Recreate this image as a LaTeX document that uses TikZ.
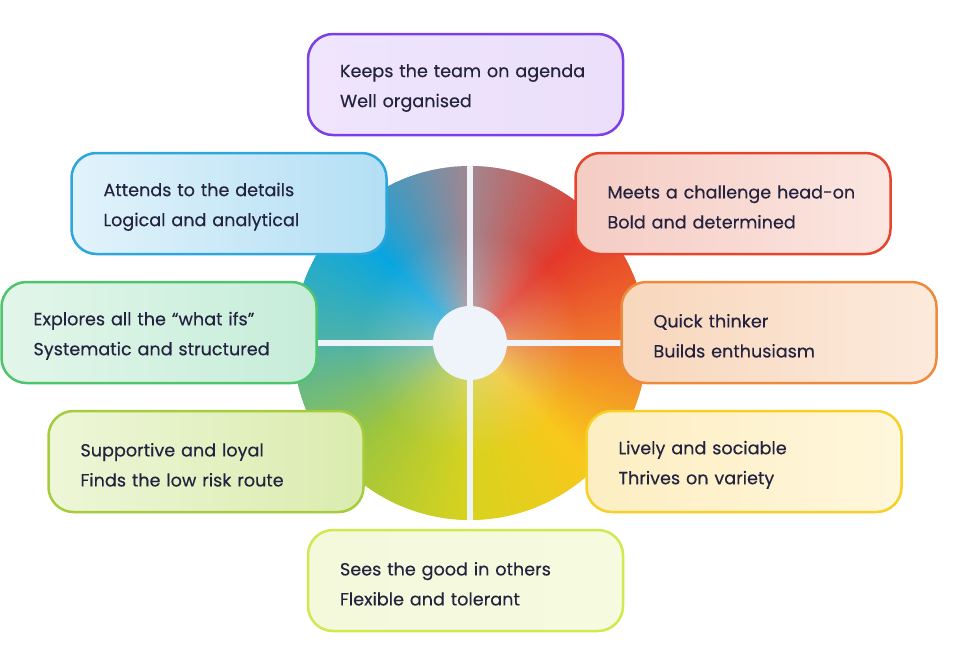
\documentclass[tikz,border=0pt]{standalone}
\usepackage{fontspec}
\setmainfont{Poppins}[FakeBold=0.3]
\usetikzlibrary{fadings}

\definecolor{ink}{HTML}{23233F}
\definecolor{hub}{HTML}{EEF4F9}
% wheel colour stops, every 45 degrees (clockwise from the right)
\definecolor{s0}{HTML}{F07A2C}
\definecolor{s1}{HTML}{F8C81C}
\definecolor{s2}{HTML}{D8D31E}
\definecolor{s3}{HTML}{A0C63C}
\definecolor{s4}{HTML}{4FB2A8}
\definecolor{s5}{HTML}{08A6E0}
\definecolor{s6}{HTML}{A3868F}
\definecolor{s7}{HTML}{E4382A}
\definecolor{s8}{HTML}{F07A2C}
% box colours: border, left fill, right fill
\definecolor{agendaB}{HTML}{7B3FE4}\definecolor{agendaL}{HTML}{EFE5FC}\definecolor{agendaR}{HTML}{EBDFFB}
\definecolor{detailsB}{HTML}{2CA6DD}\definecolor{detailsL}{HTML}{E2F3FB}\definecolor{detailsR}{HTML}{B3DFF4}
\definecolor{challengeB}{HTML}{E6452D}\definecolor{challengeL}{HTML}{F4CCC4}\definecolor{challengeR}{HTML}{FCE6E0}
\definecolor{whatifsB}{HTML}{4EC46C}\definecolor{whatifsL}{HTML}{E2F6E9}\definecolor{whatifsR}{HTML}{C6EDD9}
\definecolor{thinkerB}{HTML}{EE8A3C}\definecolor{thinkerL}{HTML}{F8D7BC}\definecolor{thinkerR}{HTML}{FCEADC}
\definecolor{loyalB}{HTML}{A6CB3C}\definecolor{loyalL}{HTML}{EEF6D8}\definecolor{loyalR}{HTML}{DAECAE}
\definecolor{livelyB}{HTML}{F6D024}\definecolor{livelyL}{HTML}{FDEEC2}\definecolor{livelyR}{HTML}{FFF7DC}
\definecolor{othersB}{HTML}{D2E84E}\definecolor{othersL}{HTML}{F4F9DC}\definecolor{othersR}{HTML}{F6FADF}
\tikzfading[name=hubfade, inner color=transparent!0, outer color=transparent!100]

\begin{document}
\begin{tikzpicture}[x=1pt, y=-1pt,
    trait/.style={draw=#1B, line width=2.5pt, rounded corners=25pt,
      left color=#1L, right color=#1R, minimum width=315pt, minimum height=101pt,
      text width=251pt, inner xsep=32pt, align=left, text=ink,
      font=\fontsize{17.6}{30}\selectfont, execute at begin node=\rule{0pt}{20pt}}]
    \useasboundingbox (0,0) rectangle (954,657);

    % Wheel
    \foreach \a in {0,...,359} {
      \pgfmathtruncatemacro\i{int(\a/45)}
      \pgfmathtruncatemacro\j{\i+1}
      \pgfmathtruncatemacro\p{100-(\a-45*\i)*100/45}
      \colorlet{wedge}{s\i!\p!s\j}
      \fill[wedge] (470,343) -- ++(\a:177) arc[start angle=\a, end angle=\a+1.5, radius=177] -- cycle;
    }
    \fill[white!75!gray, opacity=0.45, path fading=hubfade] (470,343) circle[radius=110];

    % Gaps and hub
    \begin{scope}
      \clip (470,343) circle[radius=177];
      \draw[hub, line width=6pt] (470,160) -- (470,526);
      \draw[hub, line width=6pt] (288,343) -- (652,343);
    \end{scope}
    \fill[hub] (470,343) circle[radius=37];

    % Traits
    \node[trait=agenda] (agenda) at (465.5,84.5)
      {Keeps the team on agenda\\Well organised};
    \node[trait=details] (details) at (229,203.5)
      {Attends to the details\\Logical and analytical};
    \node[trait=challenge] (challenge) at (733,203.5)
      {Meets a challenge head-on\\Bold and determined};
    \node[trait=whatifs] (whatifs) at (159,332.5)
      {Explores all the “what ifs”\\Systematic and structured};
    \node[trait=thinker] (thinker) at (779,332.5)
      {Quick thinker\\Builds enthusiasm};
    \node[trait=loyal] (loyal) at (206,461.5)
      {Supportive and loyal\\Finds the low risk route};
    \node[trait=lively] (lively) at (744,461.5)
      {Lively and sociable\\Thrives on variety};
    \node[trait=others] (others) at (465.5,580.5)
      {Sees the good in others\\Flexible and tolerant};
\end{tikzpicture}
\end{document}
